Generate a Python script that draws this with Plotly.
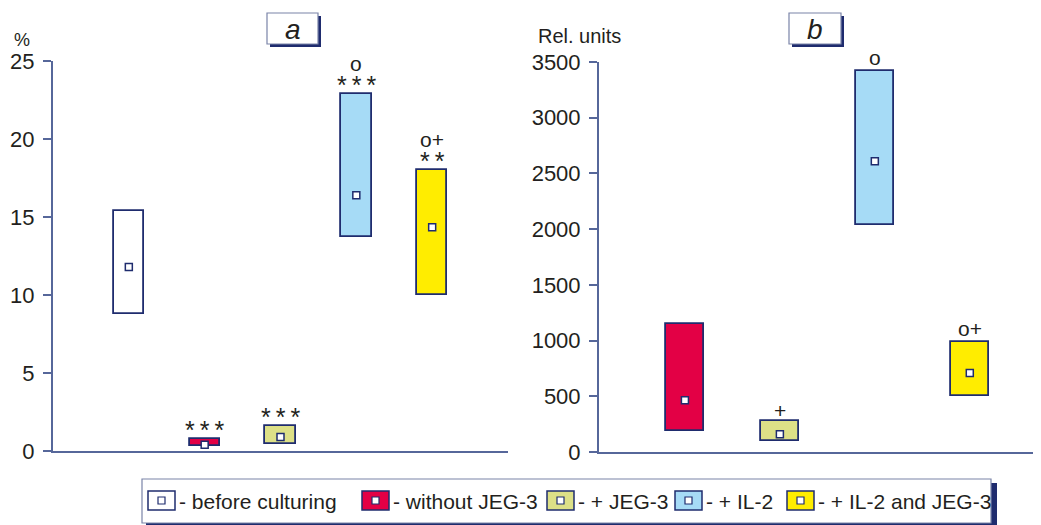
import plotly.graph_objects as go

W, H = 1041, 525
OFF = 8  # page body margin


def X(px):
    return (px - OFF) / W


def Y(py):
    return 1 - (py - OFF) / H


groups = ["before culturing", "without JEG-3", "+ JEG-3", "+ IL-2", "+ IL-2 and JEG-3"]
colors = ["#ffffff", "#e30045", "#dde087", "#a6dbf6", "#ffed00"]

# Panel a (%): low, high, median
a_low = [8.8, 0.3, 0.45, 13.7, 10.0]
a_high = [15.4, 0.75, 1.6, 22.9, 18.0]
a_med = [11.8, 0.4, 0.9, 16.4, 14.35]
a_marks = [None, "***", "***", "o\n***", "o+\n**"]

# Panel b (Rel. units): index 0 has no data
b_low = [None, 190, 100, 2040, 500]
b_high = [None, 1150, 280, 3420, 990]
b_med = [None, 465, 160, 2610, 710]
b_marks = [None, None, "+", "o", "o+"]

NAVY = "#1f2c6e"
AXC = "#56679a"
FONT = "Liberation Sans, Arial, sans-serif"
TXT = "#231f20"

fig = go.Figure()


def add_panel(low, high, med, xa, ya):
    for i, g in enumerate(groups):
        if low[i] is None:
            continue
        fig.add_trace(go.Bar(
            x=[i], y=[high[i] - low[i]], base=[low[i]], width=0.4,
            marker=dict(color=colors[i], line=dict(color=NAVY, width=1.8)),
            xaxis=xa, yaxis=ya, showlegend=False, hoverinfo="skip"))
    xs = [i for i in range(len(groups)) if med[i] is not None]
    fig.add_trace(go.Scatter(
        x=xs, y=[med[i] for i in xs], mode="markers",
        marker=dict(symbol="square", size=7, color="white",
                    line=dict(color=NAVY, width=1.5)),
        xaxis=xa, yaxis=ya, showlegend=False, hoverinfo="skip", cliponaxis=False))


add_panel(a_low, a_high, a_med, "x", "y")
add_panel(b_low, b_high, b_med, "x2", "y2")

ax_common = dict(showgrid=False, zeroline=False, showline=True, linecolor=AXC, linewidth=2,
                 automargin=False)
yax_common = dict(ticks="outside", ticklen=8, tickwidth=2, tickcolor=AXC, ticklabelstandoff=4,
                  tickfont=dict(size=22, color=TXT, family=FONT))
fig.update_layout(
    width=W, height=H, plot_bgcolor="white", paper_bgcolor="white",
    margin=dict(l=0, r=0, t=0, b=0), bargap=0, barmode="overlay",
    font=dict(family=FONT, color=TXT), showlegend=False,
    xaxis=dict(domain=[X(53), X(508)], range=[-1, 5], showticklabels=False, ticks="",
               anchor="y", **ax_common),
    yaxis=dict(domain=[Y(451), Y(61)], range=[0, 25], tickvals=[0, 5, 10, 15, 20, 25],
               anchor="x", **ax_common, **yax_common),
    xaxis2=dict(domain=[X(599), X(1041)], range=[0.095, 4.75], showticklabels=False, ticks="",
                anchor="y2", **ax_common),
    yaxis2=dict(domain=[Y(452), Y(62)], range=[0, 3500],
                tickvals=[0, 500, 1000, 1500, 2000, 2500, 3000, 3500],
                anchor="x2", **ax_common, **yax_common),
)

ann = []


def mark_ann(marks, high, xr, yr):
    for i, m in enumerate(marks):
        if not m:
            continue
        lines = m.split("\n")
        n = len(lines)
        for k, line in enumerate(lines):
            if "*" in line:
                shift, size, text = -7, 25, "\u2009".join(line)
            else:
                shift = 17 if n > 1 else 0
                if line == "+":
                    shift -= 3
                size, text = 21, line
            ann.append(dict(x=i, y=high[i], xref=xr, yref=yr, text=text, showarrow=False,
                            xanchor="center", yanchor="bottom", yshift=shift,
                            font=dict(size=size, color=TXT, family=FONT)))


mark_ann(a_marks, a_high, "x", "y")
mark_ann(b_marks, b_high, "x2", "y2")

# axis unit labels
ann.append(dict(x=X(12), y=Y(40), xref="paper", yref="paper", text="%", showarrow=False,
                xanchor="left", yanchor="middle", font=dict(size=18, color=TXT)))
ann.append(dict(x=X(536), y=Y(36), xref="paper", yref="paper", text="Rel. units", showarrow=False,
                xanchor="left", yanchor="middle", font=dict(size=20, color=TXT)))

shapes = []


def px_rect(x0, y0, x1, y1, fill, line_color=None, lw=0):
    shapes.append(dict(type="rect", xref="paper", yref="paper",
                       x0=X(x0), x1=X(x1), y0=Y(y1), y1=Y(y0),
                       fillcolor=fill, line=dict(color=line_color or fill, width=lw), layer="above"))


# panel title boxes
for (x0, x1, lab) in [(267, 318, "a"), (789, 841, "b")]:
    px_rect(x0 + 3, 16, x1 + 3, 47, NAVY)
    px_rect(x0, 13, x1, 44, "white", "#7a84a8", 1.2)
    ann.append(dict(x=X((x0 + x1) / 2), y=Y(29), xref="paper", yref="paper",
                    text="<i>" + lab + "</i>", showarrow=False, xanchor="center", yanchor="middle",
                    font=dict(size=28, color=TXT)))

# legend
px_rect(146, 483, 997, 530, NAVY)
px_rect(142, 479, 991, 523, "white", "#7a84a8", 1.2)
leg_x = [148, 362, 547, 675, 787]
for i, g in enumerate(groups):
    x0 = leg_x[i]
    px_rect(x0, 491, x0 + 27, 510, colors[i], NAVY, 1.5)
    px_rect(x0 + 10, 497, x0 + 17, 504, "white", NAVY, 1.2)
    ann.append(dict(x=X(x0 + 29), y=Y(501), xref="paper", yref="paper",
                    text="- " + g, showarrow=False, xanchor="left", yanchor="middle",
                    font=dict(size=21, color=TXT)))

fig.update_layout(annotations=ann, shapes=shapes)
fig.write_html("out.html")
